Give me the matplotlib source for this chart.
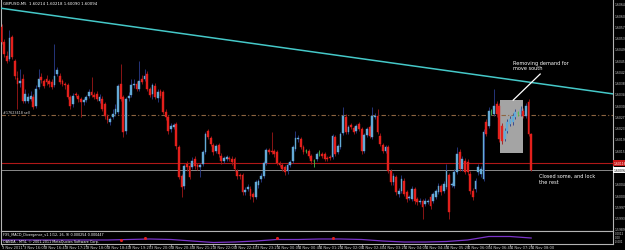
import numpy as np
import matplotlib
matplotlib.use("Agg")
import matplotlib.pyplot as plt
import matplotlib.transforms as mtransforms
from matplotlib.patches import Rectangle

plt.rcParams["font.family"] = "DejaVu Sans"

header = "GBPUSD,M5  1.60214 1.60218 1.60090 1.60094"

# M5 bars, 3 Nov 15:20 -> 4 Nov 08:00
opens = [
    1.60570, 1.60520, 1.60473, 1.60463, 1.60536, 1.60456, 1.60400, 1.60383, 1.60396, 1.60323,
    1.60323, 1.60330, 1.60336, 1.60306, 1.60370, 1.60403, 1.60390, 1.60396, 1.60390, 1.60386,
    1.60376, 1.60413, 1.60406, 1.60390, 1.60380, 1.60376, 1.60336, 1.60313, 1.60346, 1.60340,
    1.60330, 1.60320, 1.60326, 1.60340, 1.60353, 1.60343, 1.60346, 1.60323, 1.60330, 1.60313,
    1.60273, 1.60253, 1.60270, 1.60280, 1.60286, 1.60380, 1.60336, 1.60223, 1.60333, 1.60343,
    1.60376, 1.60380, 1.60363, 1.60396, 1.60396, 1.60413, 1.60363, 1.60346, 1.60373, 1.60333,
    1.60356, 1.60353, 1.60286, 1.60270, 1.60230, 1.60236, 1.60246, 1.60170, 1.60073, 1.60040,
    1.60113, 1.60106, 1.60103, 1.60130, 1.60110, 1.60103, 1.60113, 1.60153, 1.60223, 1.60200,
    1.60176, 1.60156, 1.60176, 1.60140, 1.60123, 1.60130, 1.60133, 1.60130, 1.60130, 1.60090,
    1.60076, 1.60076, 1.60020, 1.60030, 1.60030, 1.60013, 1.60003, 1.60043, 1.60063, 1.60073,
    1.60116, 1.60160, 1.60156, 1.60156, 1.60153, 1.60116, 1.60110, 1.60103, 1.60090, 1.60110,
    1.60123, 1.60163, 1.60196, 1.60196, 1.60170, 1.60156, 1.60156, 1.60140, 1.60123, 1.60130,
    1.60150, 1.60146, 1.60146, 1.60133, 1.60136, 1.60136, 1.60203, 1.60153, 1.60170, 1.60216,
    1.60270, 1.60220, 1.60243, 1.60233, 1.60223, 1.60246, 1.60230, 1.60156, 1.60210, 1.60236,
    1.60203, 1.60270, 1.60273, 1.60206, 1.60176, 1.60156, 1.60170, 1.60090, 1.60053, 1.60070,
    1.60013, 1.60023, 1.60056, 1.60020, 1.60000, 1.59996, 1.60030, 1.59996, 1.59986, 1.59990,
    1.59980, 1.59986, 1.60003, 1.59990, 1.60003, 1.60020, 1.60040, 1.60023, 1.60036, 1.60076,
    1.60043, 1.60040, 1.60086, 1.60153, 1.60096, 1.60123, 1.60120, 1.60080, 1.60023, 1.60030,
    1.60086, 1.60080, 1.60063, 1.60253, 1.60240, 1.60286, 1.60280, 1.60313, 1.60306, 1.60240,
    1.60196, 1.60223, 1.60246, 1.60253, 1.60270, 1.60283, 1.60280, 1.60290, 1.60273, 1.60320,
    1.60214,
]
closes = [
    1.60520, 1.60480, 1.60456, 1.60533, 1.60470, 1.60406, 1.60380, 1.60390, 1.60323, 1.60346,
    1.60336, 1.60340, 1.60303, 1.60363, 1.60396, 1.60393, 1.60373, 1.60386, 1.60380, 1.60370,
    1.60406, 1.60426, 1.60386, 1.60380, 1.60376, 1.60336, 1.60306, 1.60340, 1.60343, 1.60330,
    1.60320, 1.60326, 1.60336, 1.60353, 1.60343, 1.60336, 1.60330, 1.60336, 1.60296, 1.60273,
    1.60260, 1.60263, 1.60280, 1.60296, 1.60373, 1.60330, 1.60220, 1.60330, 1.60340, 1.60376,
    1.60380, 1.60363, 1.60390, 1.60386, 1.60406, 1.60363, 1.60343, 1.60376, 1.60336, 1.60353,
    1.60340, 1.60286, 1.60270, 1.60223, 1.60240, 1.60243, 1.60173, 1.60070, 1.60036, 1.60106,
    1.60103, 1.60070, 1.60123, 1.60106, 1.60103, 1.60110, 1.60153, 1.60213, 1.60203, 1.60180,
    1.60153, 1.60173, 1.60146, 1.60123, 1.60133, 1.60136, 1.60130, 1.60120, 1.60096, 1.60073,
    1.60073, 1.60020, 1.60026, 1.60036, 1.60006, 1.60003, 1.60053, 1.60056, 1.60073, 1.60116,
    1.60160, 1.60153, 1.60153, 1.60146, 1.60116, 1.60110, 1.60096, 1.60086, 1.60110, 1.60120,
    1.60170, 1.60200, 1.60200, 1.60170, 1.60153, 1.60156, 1.60140, 1.60123, 1.60123, 1.60146,
    1.60150, 1.60140, 1.60130, 1.60130, 1.60133, 1.60206, 1.60146, 1.60173, 1.60213, 1.60273,
    1.60220, 1.60236, 1.60236, 1.60220, 1.60240, 1.60230, 1.60156, 1.60210, 1.60230, 1.60206,
    1.60273, 1.60273, 1.60220, 1.60180, 1.60156, 1.60170, 1.60090, 1.60053, 1.60073, 1.60020,
    1.60023, 1.60063, 1.60013, 1.59996, 1.60003, 1.60030, 1.59990, 1.59986, 1.59990, 1.59970,
    1.59990, 1.59990, 1.59973, 1.60013, 1.60023, 1.60040, 1.60020, 1.60046, 1.60090, 1.59953,
    1.60046, 1.60086, 1.60146, 1.60096, 1.60130, 1.60086, 1.60086, 1.60023, 1.60003, 1.60056,
    1.60103, 1.60096, 1.60220, 1.60213, 1.60290, 1.60286, 1.60306, 1.60280, 1.60196, 1.60190,
    1.60223, 1.60253, 1.60263, 1.60273, 1.60286, 1.60283, 1.60296, 1.60273, 1.60306, 1.60213,
    1.60094,
]
highs = [
    1.60580, 1.60530, 1.60490, 1.60560, 1.60543, 1.60463, 1.60423, 1.60430, 1.60413, 1.60363,
    1.60350, 1.60356, 1.60346, 1.60376, 1.60430, 1.60416, 1.60396, 1.60410, 1.60396, 1.60396,
    1.60513, 1.60436, 1.60416, 1.60396, 1.60386, 1.60383, 1.60343, 1.60350, 1.60353, 1.60346,
    1.60336, 1.60333, 1.60343, 1.60363, 1.60403, 1.60353, 1.60356, 1.60346, 1.60340, 1.60320,
    1.60280, 1.60270, 1.60296, 1.60313, 1.60380, 1.60446, 1.60343, 1.60336, 1.60353, 1.60396,
    1.60396, 1.60390, 1.60456, 1.60410, 1.60430, 1.60423, 1.60370, 1.60383, 1.60383, 1.60363,
    1.60363, 1.60360, 1.60296, 1.60276, 1.60250, 1.60250, 1.60253, 1.60176, 1.60080, 1.60113,
    1.60123, 1.60116, 1.60136, 1.60140, 1.60116, 1.60116, 1.60160, 1.60220, 1.60230, 1.60206,
    1.60183, 1.60180, 1.60183, 1.60150, 1.60140, 1.60143, 1.60140, 1.60140, 1.60136, 1.60096,
    1.60083, 1.60083, 1.60036, 1.60046, 1.60040, 1.60020, 1.60060, 1.60063, 1.60083, 1.60123,
    1.60166, 1.60166, 1.60220, 1.60163, 1.60160, 1.60123, 1.60116, 1.60110, 1.60116, 1.60126,
    1.60176, 1.60223, 1.60210, 1.60203, 1.60176, 1.60163, 1.60163, 1.60146, 1.60130, 1.60153,
    1.60160, 1.60153, 1.60153, 1.60140, 1.60143, 1.60213, 1.60210, 1.60180, 1.60220, 1.60303,
    1.60280, 1.60243, 1.60250, 1.60240, 1.60246, 1.60253, 1.60236, 1.60216, 1.60236, 1.60243,
    1.60303, 1.60283, 1.60296, 1.60216, 1.60183, 1.60176, 1.60176, 1.60096, 1.60083, 1.60076,
    1.60033, 1.60076, 1.60066, 1.60026, 1.60010, 1.60040, 1.60036, 1.60003, 1.60000, 1.59996,
    1.60000, 1.59996, 1.60013, 1.60020, 1.60030, 1.60050, 1.60046, 1.60056, 1.60113, 1.60083,
    1.60053, 1.60096, 1.60170, 1.60163, 1.60140, 1.60133, 1.60130, 1.60090, 1.60033, 1.60066,
    1.60113, 1.60106, 1.60230, 1.60263, 1.60303, 1.60296, 1.60363, 1.60323, 1.60316, 1.60250,
    1.60233, 1.60263, 1.60273, 1.60283, 1.60296, 1.60290, 1.60306, 1.60300, 1.60316, 1.60330,
    1.60218,
]
lows = [
    1.60513, 1.60470, 1.60450, 1.60456, 1.60463, 1.60396, 1.60296, 1.60370, 1.60316, 1.60316,
    1.60316, 1.60323, 1.60296, 1.60300, 1.60363, 1.60383, 1.60366, 1.60376, 1.60370, 1.60363,
    1.60370, 1.60406, 1.60380, 1.60373, 1.60363, 1.60330, 1.60296, 1.60303, 1.60336, 1.60320,
    1.60270, 1.60310, 1.60320, 1.60333, 1.60336, 1.60330, 1.60323, 1.60316, 1.60290, 1.60263,
    1.60250, 1.60243, 1.60263, 1.60273, 1.60280, 1.60323, 1.60203, 1.60213, 1.60323, 1.60336,
    1.60366, 1.60356, 1.60356, 1.60380, 1.60390, 1.60356, 1.60336, 1.60330, 1.60330, 1.60320,
    1.60333, 1.60280, 1.60260, 1.60213, 1.60220, 1.60230, 1.60163, 1.60063, 1.60003, 1.60030,
    1.60090, 1.60063, 1.60096, 1.60096, 1.60093, 1.60070, 1.60106, 1.60146, 1.60196, 1.60173,
    1.60143, 1.60150, 1.60136, 1.60113, 1.60116, 1.60123, 1.60123, 1.60110, 1.60090, 1.60063,
    1.60063, 1.60010, 1.60010, 1.60023, 1.59996, 1.59986, 1.59996, 1.60033, 1.60053, 1.60066,
    1.60110, 1.60146, 1.60146, 1.60136, 1.60110, 1.60103, 1.60090, 1.60076, 1.60080, 1.60103,
    1.60116, 1.60156, 1.60186, 1.60163, 1.60146, 1.60150, 1.60133, 1.60113, 1.60103, 1.60123,
    1.60140, 1.60133, 1.60123, 1.60123, 1.60126, 1.60130, 1.60140, 1.60146, 1.60163, 1.60210,
    1.60213, 1.60213, 1.60230, 1.60213, 1.60216, 1.60223, 1.60146, 1.60150, 1.60203, 1.60200,
    1.60196, 1.60263, 1.60213, 1.60173, 1.60150, 1.60150, 1.60083, 1.60043, 1.60043, 1.60010,
    1.60003, 1.60016, 1.60006, 1.59986, 1.59993, 1.59990, 1.59980, 1.59976, 1.59980, 1.59930,
    1.59973, 1.59980, 1.59963, 1.59983, 1.59996, 1.60013, 1.60010, 1.60016, 1.60030, 1.59930,
    1.60036, 1.60033, 1.60080, 1.60090, 1.60090, 1.60080, 1.60076, 1.60013, 1.59993, 1.60020,
    1.60076, 1.60070, 1.60056, 1.60206, 1.60233, 1.60276, 1.60273, 1.60270, 1.60186, 1.60180,
    1.60190, 1.60216, 1.60240, 1.60243, 1.60263, 1.60273, 1.60273, 1.60266, 1.60266, 1.60206,
    1.60090,
]

time_labels = [
    "3 Nov 2011", "3 Nov 16:00", "3 Nov 16:40", "3 Nov 17:20", "3 Nov 18:00", "3 Nov 18:40",
    "3 Nov 19:20", "3 Nov 20:00", "3 Nov 20:40", "3 Nov 21:20", "3 Nov 22:00", "3 Nov 22:40",
    "3 Nov 23:20", "4 Nov 00:00", "4 Nov 00:40", "4 Nov 01:20", "4 Nov 02:00", "4 Nov 02:40",
    "4 Nov 03:20", "4 Nov 04:00", "4 Nov 04:40", "4 Nov 05:20", "4 Nov 06:00", "4 Nov 06:40",
    "4 Nov 07:20", "4 Nov 08:00",
]
label_step = 8

price_labels = [1.60646, 1.60608, 1.60571, 1.60533, 1.60496, 1.60458, 1.60421, 1.60383,
                1.60346, 1.60308, 1.60271, 1.60233, 1.60196, 1.60158, 1.60046, 1.60008,
                1.59971, 1.59933, 1.59896]

order_price = 1.60276
order_text = "#17623418 sell"
stop_price = 1.60116
bid_price = 1.60094

trend_bars = [0, 200]
trend_prices = [1.60632, 1.60385]

box_bars = [188.3, 197.0]
box_prices = [1.60150, 1.60326]

note1 = "Removing demand for\nmove south"
note1_pos = (193.2, 1.60443)
arrow_from = (203.4, 1.60413)
arrow_to = (193.2, 1.60326)
note2 = "Closed some, and lock\nthe rest"
note2_pos = (203.0, 1.60066)

# indicator window
macd_bars = list(range(0, 201, 8))
macd_values = [0.0, 0.0, 0.0, 0.0, 0.0, 0.0, 0.00005, 0.0001, 0.00005, -0.0001,
               -0.00025, -0.0002, -0.0001, 0.00005, 0.00005, 0.0001, 0.0001, 0.00005,
               -0.0001, -0.0002, -0.0002, -0.00015, 0.0, 0.00035, 0.00035, 0.0002]
div_bars = [45, 54, 104, 125]
div_values = [0.00003, 0.0002, 0.0002, 0.0002]
ind_name = "FX5_MACD_Divergence_v1.1(12, 26, 9) 0.000254 0.000447"
copyright_text = "OANDA - MT4, \u00a9 2001-2011 MetaQuotes Software Corp."

W, H = 625, 251
fig = plt.figure(figsize=(W / 100, H / 100), dpi=100, facecolor="black")
ax = fig.add_axes([1 / W, (H - 232) / H, 612 / W, 232 / H], facecolor="black")
ax2 = fig.add_axes([1 / W, (H - 245) / H, 612 / W, 13 / H], facecolor="black")

xlim = (-0.2, 230.9)
for a in (ax, ax2):
    a.set_xlim(*xlim)
    a.set_xticks([])
    a.set_yticks([])
    for s in a.spines.values():
        s.set_color("#b4b4b4")
        s.set_linewidth(0.8)
ax.spines["top"].set_visible(False)
ax.set_ylim(1.59890, 1.60663)
ax2.set_ylim(-0.0004, 0.0009)

o = np.array(opens)
c = np.array(closes)
hi = np.array(highs)
lo = np.array(lows)
idx = np.arange(len(o))

up = c > o
down = c < o
body_col = np.where(up, "#64aad6", np.where(down, "#e3201c", "#4cc04c"))
wick_col = np.where(up, "#2a3c8c", np.where(down, "#a01818", "#4cc04c"))

# background objects
ax.add_patch(Rectangle((box_bars[0], box_prices[0]), box_bars[1] - box_bars[0],
                       box_prices[1] - box_prices[0], facecolor="#a4a4a4",
                       edgecolor="none", zorder=1))
ax.axhline(order_price, color="#8c6440", lw=0.8, ls=(0, (4, 2, 1, 2)), zorder=1.5)
ax.axhline(stop_price, color="#b01818", lw=0.8, zorder=1.5)
ax.axhline(bid_price, color="#a0a0a0", lw=0.6, zorder=1.5)

# candles
ax.vlines(idx, lo, hi, colors=wick_col, lw=0.6, zorder=2)
ax.bar(idx, np.abs(c - o), bottom=np.minimum(o, c), width=0.68,
       color=body_col, edgecolor=body_col, lw=0.3, zorder=3)

# trend line (extended)
slope = (trend_prices[1] - trend_prices[0]) / (trend_bars[1] - trend_bars[0])
tx = np.array(xlim)
ax.plot(tx, trend_prices[0] + slope * (tx - trend_bars[0]), color="#45c8c8", lw=1.1, zorder=4)

# annotations
ax.plot([arrow_from[0], arrow_to[0]], [arrow_from[1], arrow_to[1]], color="white", lw=0.9, zorder=5)
ax.text(*note1_pos, note1, color="white", fontsize=3.6, ha="left", va="center", linespacing=1.2, zorder=5)
ax.text(*note2_pos, note2, color="white", fontsize=3.6, ha="left", va="center", linespacing=1.2, zorder=5)
ax.text(0.6, order_price + 0.00010, order_text, color="#d8d8d8", fontsize=2.4, ha="left", va="center")

fig.text(3 / W, (H - 4) / H, header, color="white", fontsize=2.8, ha="left", va="center")

# price scale on the right (narrow strip, labels are clipped by the edge as in the terminal)
pt = mtransforms.blended_transform_factory(fig.transFigure, ax.transData)
for p in price_labels:
    ax.text(614.5 / W, p, f"{p:.5f}", transform=pt, color="#d0d0d0", fontsize=2.2,
            ha="left", va="center", clip_on=False)
ax.text(613.5 / W, stop_price, f"{stop_price:.5f}", transform=pt, color="white", fontsize=2.2,
        ha="left", va="center", clip_on=False,
        bbox=dict(boxstyle="square,pad=0.3", fc="#c81818", ec="none"))
ax.text(613.5 / W, bid_price, f"{bid_price:.5f}", transform=pt, color="black", fontsize=2.2,
        ha="left", va="center", clip_on=False,
        bbox=dict(boxstyle="square,pad=0.3", fc="white", ec="none"))

# indicator window
ax2.plot(macd_bars, macd_values, color="#7a34c8", lw=0.9)
ax2.scatter(div_bars, div_values, s=1.5, color="#e02020", zorder=3)
fig.text(3 / W, (H - 235.5) / H, ind_name, color="white", fontsize=2.4, ha="left", va="center")
fig.text(3 / W, (H - 242) / H, copyright_text, color="white", fontsize=2.4, ha="left", va="center")
it = mtransforms.blended_transform_factory(fig.transFigure, ax2.transAxes)
for yy, txt in [(0.85, "0.0012"), (0.5, "0.00"), (0.2, "-0.001")]:
    ax2.text(614.5 / W, yy, txt, transform=it, color="#d0d0d0", fontsize=2.0,
             ha="left", va="center", clip_on=False)

# time scale
tt = mtransforms.blended_transform_factory(ax2.transData, fig.transFigure)
for k, lab in enumerate(time_labels):
    ax2.text(k * label_step + 0.3, (H - 248) / H, lab, transform=tt, color="#d0d0d0",
             fontsize=2.6, ha="left", va="center", clip_on=False)
    ax2.plot([k * label_step, k * label_step], [(H - 245) / H, (H - 247) / H], transform=tt,
             color="#b4b4b4", lw=0.5, clip_on=False)

fig.savefig("out.png", dpi=100, facecolor="black")
plt.close(fig)
